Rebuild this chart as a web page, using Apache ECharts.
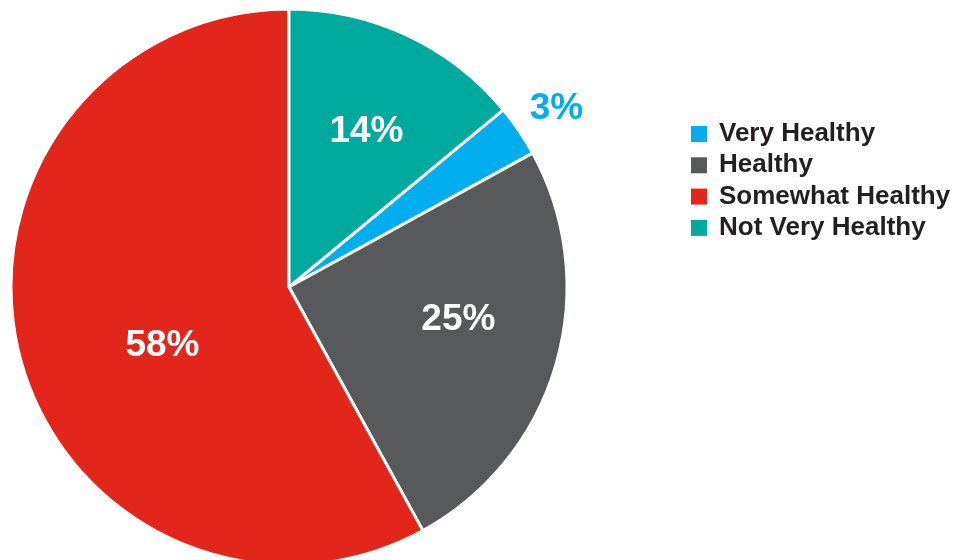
<!DOCTYPE html>
<html>
<head>
<meta charset="utf-8">
<script src="https://cdn.jsdelivr.net/npm/echarts@6/dist/echarts.min.js"></script>
<style>
  html, body { margin: 0; padding: 0; background: #ffffff; }
  #chart { width: 955px; height: 560px; }
</style>
</head>
<body>
<div id="chart"></div>
<script>
// Health self-assessment shares (percent)
const categories = ['Very Healthy', 'Healthy', 'Somewhat Healthy', 'Not Very Healthy'];
const shares = [3, 25, 58, 14];
const colors = ['#00AEEF', '#58595B', '#E3261C', '#00A99D'];

// Per-slice label nudges away from the default inside position
const labelOffsets = [[150, -98], [33, -7], [11, 23], [17, -27]];
const labelColors = ['#00AEEF', '#ffffff', '#ffffff', '#ffffff'];

const data = categories.map((name, i) => ({
  name: name,
  value: shares[i],
  itemStyle: { color: colors[i] },
  label: { offset: labelOffsets[i], color: labelColors[i] }
}));

const chart = echarts.init(document.getElementById('chart'), null, { renderer: 'canvas' });
chart.setOption({
  animation: false,
  legend: {
    orient: 'vertical',
    left: 686,
    top: 116,
    itemWidth: 16,
    itemHeight: 16,
    itemGap: 5.3,
    icon: 'rect',
    selectedMode: false,
    data: categories,
    itemStyle: { borderWidth: 0 },
    textStyle: {
      fontFamily: 'Liberation Sans, Arial, sans-serif',
      fontWeight: 'bold',
      fontSize: 26,
      lineHeight: 26,
      color: '#231F20',
      padding: [0, 0, 0, 7]
    }
  },
  series: [{
    type: 'pie',
    center: [289, 287],
    radius: 278,
    startAngle: 39.6,
    clockwise: true,
    avoidLabelOverlap: false,
    emphasis: { disabled: true },
    itemStyle: { borderColor: '#ffffff', borderWidth: 3 },
    label: {
      show: true,
      position: 'inside',
      formatter: p => p.value + '%',
      fontFamily: 'Liberation Sans, Arial, sans-serif',
      fontWeight: 'bold',
      fontSize: 37
    },
    labelLine: { show: false },
    data: data
  }]
});
</script>
</body>
</html>
